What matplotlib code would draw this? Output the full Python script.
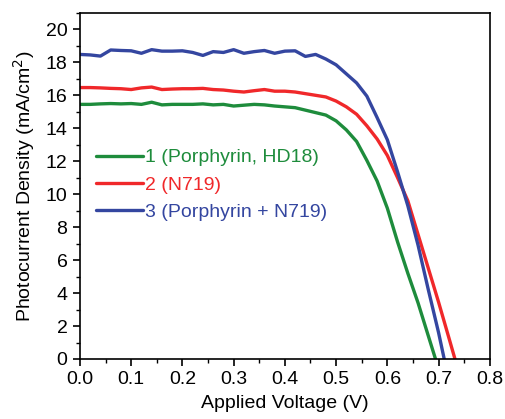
import matplotlib
matplotlib.use("Agg")
import matplotlib.pyplot as plt
from matplotlib.ticker import MultipleLocator, FormatStrFormatter

plt.rcParams['font.family'] = ['Liberation Sans', 'DejaVu Sans']

# Data
v_green = [0.00, 0.02, 0.04, 0.06, 0.08, 0.10, 0.12, 0.14, 0.16, 0.18, 0.20, 0.22, 0.24, 0.26, 0.28,
           0.30, 0.32, 0.34, 0.36, 0.38, 0.40, 0.42, 0.44, 0.46, 0.48, 0.50, 0.52, 0.54, 0.56, 0.58,
           0.60, 0.62, 0.64, 0.66, 0.68, 0.694]
j_green = [15.45, 15.45, 15.48, 15.50, 15.48, 15.50, 15.45, 15.58, 15.42, 15.45, 15.45, 15.45, 15.48, 15.42, 15.45,
           15.35, 15.40, 15.45, 15.42, 15.35, 15.30, 15.25, 15.10, 14.95, 14.80, 14.45, 13.90, 13.20, 12.05, 10.80,
           9.15, 7.10, 5.20, 3.40, 1.40, 0.0]

v_red = [0.00, 0.02, 0.04, 0.06, 0.08, 0.10, 0.12, 0.14, 0.16, 0.18, 0.20, 0.22, 0.24, 0.26, 0.28,
         0.30, 0.32, 0.34, 0.36, 0.38, 0.40, 0.42, 0.44, 0.46, 0.48, 0.50, 0.52, 0.54, 0.56, 0.58,
         0.60, 0.62, 0.64, 0.66, 0.68, 0.70, 0.72, 0.732]
j_red = [16.47, 16.47, 16.45, 16.42, 16.40, 16.35, 16.45, 16.50, 16.35, 16.38, 16.40, 16.40, 16.42, 16.35, 16.32,
         16.25, 16.20, 16.28, 16.35, 16.25, 16.25, 16.20, 16.10, 16.00, 15.90, 15.65, 15.30, 14.85, 14.15, 13.35,
         12.35, 11.00, 9.60, 7.55, 5.50, 3.45, 1.30, 0.0]

v_blue = [0.00, 0.02, 0.04, 0.06, 0.08, 0.10, 0.12, 0.14, 0.16, 0.18, 0.20, 0.22, 0.24, 0.26, 0.28,
          0.30, 0.32, 0.34, 0.36, 0.38, 0.40, 0.42, 0.44, 0.46, 0.48, 0.50, 0.52, 0.54, 0.56, 0.58,
          0.60, 0.62, 0.64, 0.66, 0.68, 0.70, 0.711]
j_blue = [18.48, 18.45, 18.38, 18.75, 18.72, 18.70, 18.55, 18.77, 18.68, 18.68, 18.70, 18.60, 18.42, 18.65, 18.60,
          18.77, 18.55, 18.65, 18.72, 18.55, 18.68, 18.70, 18.36, 18.48, 18.20, 17.85, 17.30, 16.75, 15.95, 14.65,
          13.30, 11.35, 9.30, 6.90, 4.20, 1.60, 0.0]

labels = ["1 (Porphyrin, HD18)", "2 (N719)", "3 (Porphyrin + N719)"]
colors = ["#1e8c3c", "#f0282a", "#3446a0"]

fig = plt.figure(figsize=(5.06, 4.19), dpi=100)
ax = fig.add_axes([0.158, 0.1432, 0.810, 0.826])

for v, j, lab, c in zip([v_green, v_red, v_blue], [j_green, j_red, j_blue], labels, colors):
    ax.plot(v, j, color=c, lw=2.4, label=lab, solid_capstyle='round')

ax.set_xlim(0, 0.8)
ax.set_ylim(0, 21)
ax.xaxis.set_major_locator(MultipleLocator(0.1))
ax.xaxis.set_minor_locator(MultipleLocator(0.05))
ax.yaxis.set_major_locator(MultipleLocator(2))
ax.yaxis.set_minor_locator(MultipleLocator(1))
ax.xaxis.set_major_formatter(FormatStrFormatter('%.1f'))
ax.tick_params(which='major', direction='out', length=5, width=1.2, labelsize=14, pad=4)
ax.tick_params(which='minor', direction='out', length=3, width=1.0)
for s in ax.spines.values():
    s.set_linewidth(1.2)

ax.set_xlabel("Applied Voltage (V)", fontsize=14, labelpad=5)
ax.set_ylabel("Photocurrent Density (mA/cm$^2$)", fontsize=14, labelpad=6)

leg = ax.legend(loc='upper left', bbox_to_anchor=(0.02, 0.63), frameon=False,
                handlelength=2.4, handletextpad=0.12, labelspacing=0.5, fontsize=14,
                labelcolor='linecolor', borderaxespad=0)

fig.savefig("out.png", dpi=100)
